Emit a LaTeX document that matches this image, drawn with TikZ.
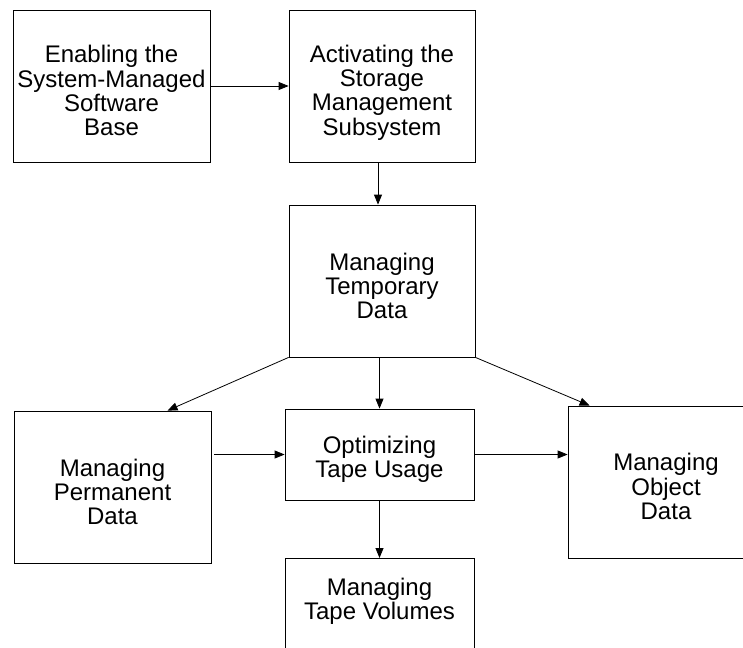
\documentclass[tikz,border=0pt]{standalone}
\usepackage{fontspec}
\setmainfont{Liberation Sans}
\usetikzlibrary{arrows.meta}

% text of a stage, lowered a bit in its box
\newcommand{\stagetext}[2][-8pt]{\raisebox{#1}[\height][\depth]{%
  \begin{tabular}{@{}c@{}}#2\end{tabular}}}

\begin{document}
\begin{tikzpicture}[x=1pt,y=-1pt,line width=0.8pt,
    >={Triangle[length=10pt,width=8pt]},
    stage/.style={draw,inner sep=0pt,
      font=\fontsize{24}{24}\selectfont}]
  \useasboundingbox (0,0) rectangle (743,647);
  \clip (0,0) rectangle (743,647);

  \node[stage,minimum width=197pt,minimum height=152pt] (enab) at (111.5,86)
      {\stagetext{Enabling the\\System-Managed\\Software\\Base}};
  \node[stage,minimum width=186pt,minimum height=152pt] (act) at (382,86)
      {\stagetext{Activating the\\Storage\\Management\\Subsystem}};
  \node[stage,minimum width=186pt,minimum height=152pt] (temp) at (382,281)
      {\stagetext{Managing\\Temporary\\Data}};
  \node[stage,minimum width=197pt,minimum height=152pt] (perm) at (112.5,487)
      {\stagetext{Managing\\Permanent\\Data}};
  \node[stage,minimum width=189pt,minimum height=91pt] (opt) at (379.5,454.5)
      {\stagetext[-6pt]{Optimizing\\Tape Usage}};
  \node[stage,minimum width=196pt,minimum height=152pt] (obj) at (666,482)
      {\stagetext{Managing\\Object\\Data}};
  \node[stage,minimum width=189pt,minimum height=92pt,anchor=north] (vol)
      at (379.5,558) {\stagetext[2pt]{Managing\\Tape Volumes}};

  \draw[->] (enab) -- (act);
  \draw[->] ([xshift=-4pt]act.south) -- ([xshift=-4pt]temp.north);
  \draw[->] (temp.south west) -- ([xshift=55pt]perm.north);
  \draw[->] (temp.south -| opt.north) -- (opt.north);
  \draw[->] (temp.south east) -- ([xshift=22pt]obj.north west);
  \draw[->] ([xshift=3pt]perm.east |- opt.west) -- (opt.west);
  \draw[->] (opt.east) -- (opt.east -| obj.west);
  \draw[->] (opt.south) -- (vol.north);
\end{tikzpicture}
\end{document}
